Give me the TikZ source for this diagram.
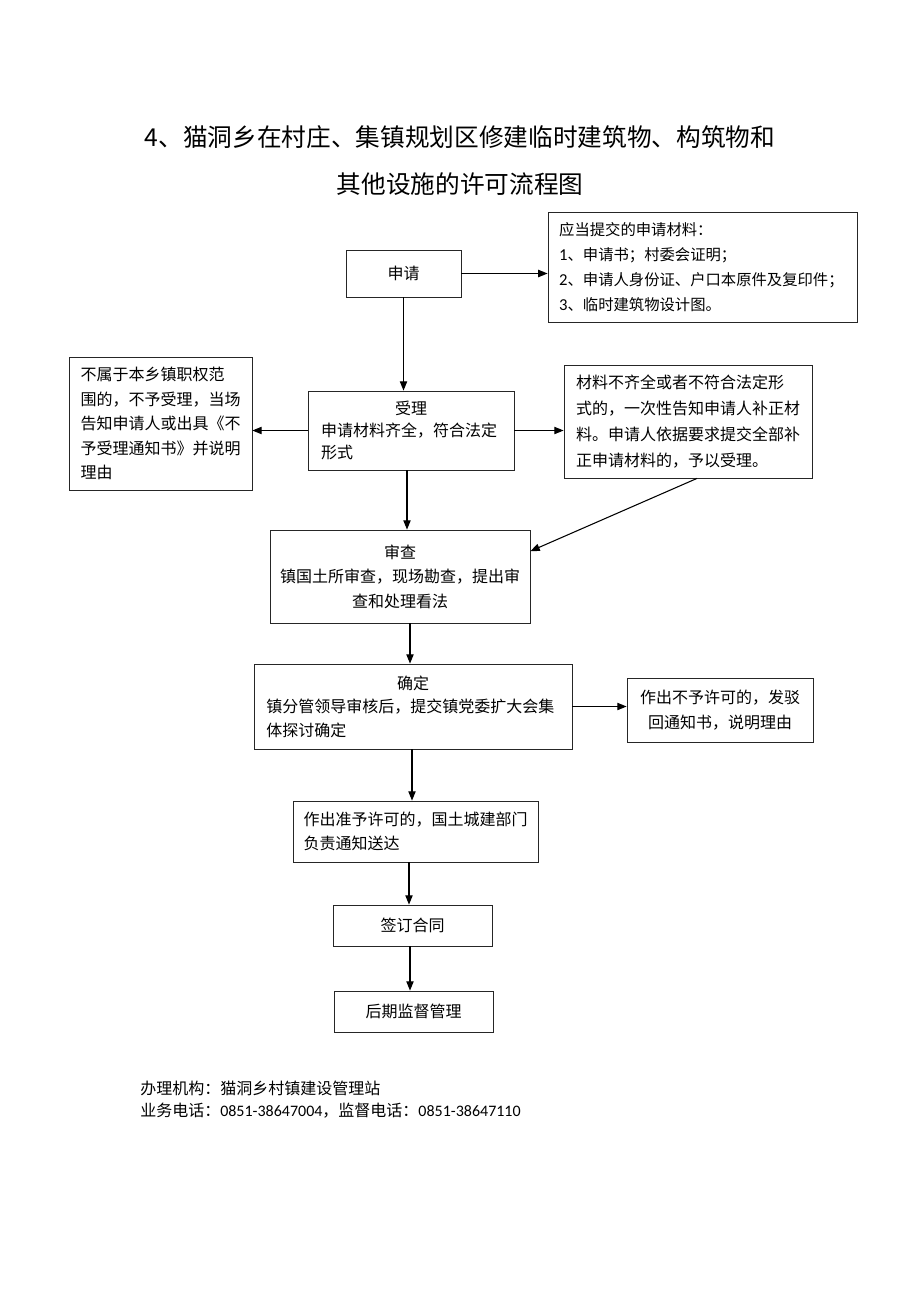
\documentclass[tikz,border=0pt]{standalone}
\usepackage{fontspec}
\setmainfont{Noto Sans CJK SC}
\newfontfamily\latinfont{Carlito}
\usetikzlibrary{arrows.meta}

\tikzset{
  box/.style={draw=black!85, line width=0.6pt, rectangle, inner ysep=2pt},
  arr/.style={-{Triangle[length=7pt,width=5.5pt]}, line width=0.8pt},
}

\begin{document}
\begin{tikzpicture}[x=0.75pt,y=-0.75pt]
  \useasboundingbox (0,0) rectangle (920,1302);

  \node[font=\fontsize{18.5}{22}\selectfont] (title1) at (460,137) {4、猫洞乡在村庄、集镇规划区修建临时建筑物、构筑物和};
  \node[font=\fontsize{18.5}{22}\selectfont] (title2) at (460,184) {其他设施的许可流程图};

  \node[box, font=\fontsize{12}{18}\selectfont, minimum width=86.25pt, minimum height=35.25pt] (shenqing) at (403.5,273.5) {申请};
  \node[box, font=\fontsize{11.5}{18.75}\selectfont, text width=215pt, inner xsep=8.4pt, minimum height=82.5pt, align=left] (cailiao) at (702.5,267)
    {应当提交的申请材料：\\{\latinfont\fontsize{12.5}{18.75}\selectfont 1}、申请书；村委会证明；\\{\latinfont\fontsize{12.5}{18.75}\selectfont 2}、申请人身份证、户口本原件及复印件；\\{\latinfont\fontsize{12.5}{18.75}\selectfont 3}、临时建筑物设计图。};

  \node[box, font=\fontsize{12}{16.5}\selectfont, text width=135pt, inner xsep=9.75pt, minimum height=59.25pt, align=left] (shouli) at (411,430.5)
    {\makebox[\linewidth]{受理}\\申请材料齐全，符合法定\\形式};
  \node[box, font=\fontsize{12}{18.4}\selectfont, text width=120pt, inner xsep=8.6pt, minimum height=99.75pt, align=left] (bushu) at (160.5,423.5)
    {不属于本乡镇职权范\\围的，不予受理，当场\\告知申请人或出具《不\\予受理通知书》并说明\\理由};
  \node[box, font=\fontsize{12}{19.3}\selectfont, text width=168pt, inner xsep=9pt, minimum height=84.75pt, align=left] (buqi) at (688,421.5)
    {材料不齐全或者不符合法定形\\式的，一次性告知申请人补正材\\料。申请人依据要求提交全部补\\正申请材料的，予以受理。};

  \node[box, font=\fontsize{12}{18.4}\selectfont, text width=180pt, inner xsep=7.5pt, minimum height=69.75pt, align=center] (shencha) at (400,576.5)
    {审查\\镇国土所审查，现场勘查，提出审\\查和处理看法};

  \node[box, font=\fontsize{12}{17.6}\selectfont, text width=220pt, inner xsep=9.25pt, minimum height=63.75pt, align=left] (queding) at (413,706.5)
    {\makebox[\linewidth]{确定}\\镇分管领导审核后，提交镇党委扩大会集\\体探讨确定};
  \node[box, font=\fontsize{12}{18.75}\selectfont, text width=124pt, inner xsep=7.75pt, minimum height=48pt, align=center] (buyu) at (720,710)
    {作出不予许可的，发驳\\回通知书，说明理由};

  \node[box, font=\fontsize{12}{18}\selectfont, text width=168pt, inner xsep=7.875pt, minimum height=45.75pt, align=left] (zhunyu) at (415.5,831.5)
    {作出准予许可的，国土城建部门\\负责通知送达};
  \node[box, font=\fontsize{12}{18}\selectfont, minimum width=119.25pt, minimum height=30.75pt] (qianding) at (412.5,925.5) {签订合同};
  \node[box, font=\fontsize{12}{18}\selectfont, minimum width=119.25pt, minimum height=30.75pt] (houqi) at (413.5,1011.5) {后期监督管理};

  \node[anchor=west, font=\fontsize{12}{16}\selectfont, inner sep=0pt] (jigou) at (140,1088) {办理机构：猫洞乡村镇建设管理站};
  \node[anchor=west, font=\fontsize{12}{16}\selectfont, inner sep=0pt] (dianhua) at (140,1111)
    {业务电话：{\latinfont 0851-38647004}，监督电话：{\latinfont 0851-38647110}};

  \draw[arr] (shenqing.east) -- (shenqing.east -| cailiao.west);
  \draw[arr] (shenqing.south) -- (shenqing.south |- shouli.north);
  \draw[arr] (shouli.west) -- (shouli.west -| bushu.east);
  \draw[arr] (shouli.east) -- (shouli.east -| buqi.west);
  \draw[arr] (shouli.south -| 407,0) -- (shencha.north -| 407,0);
  \draw[arr] (buqi.-81) -- (shencha.11);
  \draw[arr] (shencha.south -| 410,0) -- (queding.north -| 410,0);
  \draw[arr] (queding.east) -- (queding.east -| buyu.west);
  \draw[arr] (queding.south -| 412,0) -- (zhunyu.north -| 412,0);
  \draw[arr] (zhunyu.south -| 409,0) -- (qianding.north -| 409,0);
  \draw[arr] (qianding.south -| 410,0) -- (houqi.north -| 410,0);
\end{tikzpicture}
\end{document}
